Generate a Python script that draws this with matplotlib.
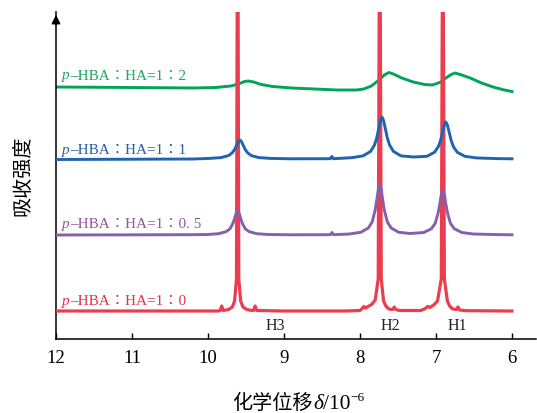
import matplotlib
matplotlib.use("Agg")
import matplotlib.pyplot as plt

# ---------------- data ----------------
# chemical shift (ppm) and displayed intensity (stacked, arbitrary units)
red_shift = [12.0, 9.86, 9.84, 9.82, 9.80, 9.73, 9.68, 9.65, 9.625, 9.614, 9.606, 9.595, 9.57, 9.54,
             9.49, 9.42, 9.40, 9.38, 9.36, 9.0, 8.2, 8.0, 7.97, 7.95, 7.93, 7.88, 7.84, 7.80, 7.76,
             7.744, 7.736, 7.72, 7.69, 7.66, 7.62, 7.57, 7.55, 7.53, 7.48, 7.2, 7.14, 7.11, 7.08,
             7.03, 6.98, 6.93, 6.914, 6.906, 6.89, 6.85, 6.82, 6.78, 6.73, 6.71, 6.69, 6.6, 6.0]
red_int = [28, 28, 28.5, 33, 28.5, 29.5, 32, 38, 60, 400, 400, 60, 38, 32,
           29.5, 28.5, 28.5, 33, 28.5, 28, 28, 28.5, 30.5, 32.5, 31, 33, 35, 39, 60,
           400, 400, 60, 38, 33, 30, 29.5, 32, 29.5, 28.5, 28.5, 30.5, 32.5, 31.5,
           34, 38, 60, 400, 400, 60, 38, 33, 30, 29.5, 32, 29, 28.3, 28]

purple_shift = [12.0, 10.2, 10.01, 9.86, 9.76, 9.71, 9.67, 9.65, 9.63, 9.61, 9.59, 9.57, 9.55,
                9.51, 9.46, 9.36, 9.21, 8.9, 8.39, 8.37, 8.35, 8.14, 7.99, 7.89, 7.84, 7.80,
                7.78, 7.76, 7.74, 7.72, 7.70, 7.68, 7.64, 7.59, 7.49, 7.34, 7.16, 7.06, 7.01,
                6.97, 6.95, 6.93, 6.91, 6.89, 6.87, 6.85, 6.81, 6.76, 6.66, 6.51, 6.2, 6.0]
purple_int = [104, 104.3, 104.5, 105.3, 107.4, 110.2, 116, 120.6, 125.6, 128, 125.6, 120.6, 116,
              110.2, 107.4, 105.3, 104.5, 104.2, 104.3, 106.5, 104.3, 105, 106.7, 111, 117, 129,
              138.5, 149, 154, 149, 138.5, 129, 117, 111, 106.7, 105.5, 106.5, 110.3, 115.7,
              126.5, 135, 144.5, 149, 144.5, 135, 126.5, 115.7, 110.3, 106.5, 105, 104.4, 104.2]

blue_shift = [12.0, 10.2, 9.98, 9.83, 9.73, 9.68, 9.65, 9.62, 9.60, 9.58, 9.56, 9.54, 9.51, 9.48,
              9.43, 9.33, 9.18, 8.9, 8.39, 8.37, 8.35, 8.11, 7.96, 7.86, 7.81, 7.78, 7.75, 7.73,
              7.71, 7.69, 7.67, 7.64, 7.61, 7.56, 7.46, 7.29, 7.12, 7.02, 6.97, 6.94, 6.91, 6.89,
              6.87, 6.85, 6.83, 6.80, 6.77, 6.72, 6.62, 6.47, 6.2, 6.0]
blue_int = [179.5, 180, 180.6, 181.4, 183.4, 186.3, 189.5, 194.3, 197.5, 199, 197.5, 194.3, 189.5,
            186.3, 183.4, 181.4, 180.6, 180.2, 180.3, 182.5, 180.3, 181.3, 183.1, 187.6, 193.9,
            201, 211.5, 218.6, 222, 218.6, 211.5, 201, 193.9, 187.6, 183.1, 182, 182.7, 186.7,
            192.2, 198.5, 207.8, 214, 217, 214, 207.8, 198.5, 192.2, 186.7, 182.7, 181.1, 180.4,
            180.2]

green_shift = [12.0, 11.0, 10.2, 9.9, 9.7, 9.6, 9.52, 9.47, 9.4, 9.3, 9.15, 8.9, 8.6, 8.3, 8.05,
               7.95, 7.85, 7.75, 7.68, 7.62, 7.56, 7.45, 7.3, 7.15, 7.05, 6.95, 6.87, 6.8, 6.75,
               6.68, 6.55, 6.4, 6.25, 6.1, 6.0]
green_int = [252, 251.5, 251, 251.5, 253, 255, 257.5, 258, 257, 254.5, 252.5, 251, 250, 249, 249,
             250, 253, 259, 264, 266.5, 265, 261, 257, 254.5, 254, 256.5, 261, 264.5, 266, 264.5,
             261, 256, 252, 249, 247.5]

series_labels = ["1：0", "1：0. 5", "1：1", "1：2"]
label_y = [34, 111, 185, 259.5]
peak_labels = ["H3", "H2", "H1"]
peak_label_x = [9.12, 7.60, 6.72]
x_ticks = [12, 11, 10, 9, 8, 7, 6]

# ---------------- style ----------------
c_red = "#EB3C50"
c_purple = "#875FAA"
c_blue = "#1E64AF"
c_green = "#00A55A"
lab_colors = ["#E8304A", "#94559F", "#2A5CAA", "#1FA563"]

W, H = 537, 413
fig = plt.figure(figsize=(W / 100, H / 100), dpi=100)
ax = fig.add_axes([56 / W, 1 - 339 / H, (536 - 56) / W, (339 - 12) / H])

lw = 2.1
ax.plot(red_shift, red_int, color=c_red, lw=2.3, zorder=3)
ax.plot(purple_shift, purple_int, color=c_purple, lw=lw, zorder=4)
ax.plot(blue_shift, blue_int, color=c_blue, lw=lw, zorder=4)
ax.plot(green_shift, green_int, color=c_green, lw=lw, zorder=2)

ax.set_xlim(12, 5.684)
ax.set_ylim(0, 327)
ax.set_xticks(x_ticks)
ax.set_xticklabels([str(t) for t in x_ticks], fontfamily="Liberation Serif", fontsize=13.5)
ax.set_yticks([])
ax.tick_params(axis="x", direction="in", length=4.5, width=1.0, pad=8)
for s in ["top", "right"]:
    ax.spines[s].set_visible(False)
for s in ["left", "bottom"]:
    ax.spines[s].set_linewidth(1.1)

# arrow at top of the y axis
ax.annotate("", xy=(0, 1.0), xytext=(0, 0.95), xycoords="axes fraction",
            arrowprops=dict(arrowstyle="-|>", color="black", lw=1.1, mutation_scale=13),
            annotation_clip=False)

# series labels: italic p + rest
lab_fam = ["Liberation Serif", "Noto Sans CJK TC", "DejaVu Sans"]
for txt, y, col in zip(series_labels, label_y, lab_colors):
    pt = ax.text(11.92, y, "p", fontfamily="Liberation Serif", fontstyle="italic",
                 fontsize=11, color=col, va="baseline", ha="left", zorder=6)
    ax.annotate("–HBA：HA=" + txt, xy=(1, y), xycoords=(pt, "data"), fontfamily=lab_fam,
                fontsize=11, color=col, va="baseline", ha="left", zorder=6)

for lab, x in zip(peak_labels, peak_label_x):
    ax.text(x, 13, lab, fontfamily="Liberation Serif", fontsize=11.5, color="#222222",
            ha="center", va="center")

# axis labels
ax.set_ylabel("吸收强度", fontfamily="Noto Sans CJK SC", fontsize=14.5)
ax.yaxis.set_label_coords(-0.046, 0.5)
base_y = 1 - 409 / H
t1 = fig.text(313 / W, base_y, "化学位移", fontfamily="Noto Sans CJK SC", fontsize=14.5,
              ha="right", va="baseline")
a1 = fig.text(313 / W, base_y, "δ", fontfamily="Liberation Serif", fontstyle="italic",
              fontsize=15.5, ha="left", va="baseline")
a2 = ax.annotate("/10", xy=(1, base_y), xycoords=(a1, "figure fraction"),
                 fontfamily="Liberation Serif", fontsize=15.5, ha="left", va="baseline",
                 annotation_clip=False)
ax.annotate("−6", xy=(1, 1 - 401 / H), xycoords=(a2, "figure fraction"),
            fontfamily=["Liberation Serif", "DejaVu Serif"], fontsize=9.5, ha="left",
            va="baseline", annotation_clip=False)

fig.savefig("out.png", dpi=100)
